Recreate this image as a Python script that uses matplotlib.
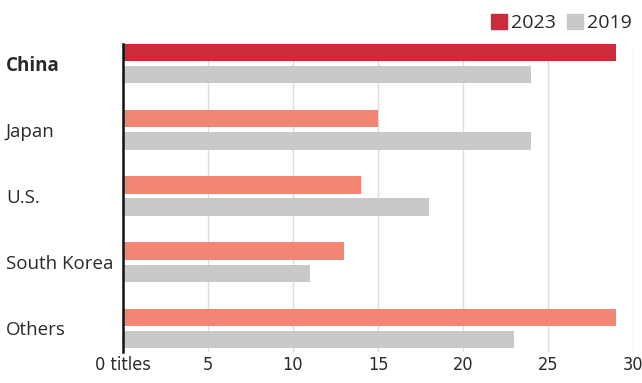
import matplotlib
matplotlib.use("Agg")
import matplotlib.pyplot as plt
from matplotlib.patches import Patch
from matplotlib import font_manager as fm

categories = ["China", "Japan", "U.S.", "South Korea", "Others"]
values_2023 = [29, 15, 14, 13, 29]
values_2019 = [24, 24, 18, 11, 23]
xticks = [0, 5, 10, 15, 20, 25, 30]
xtick_labels = ["0 titles", "5", "10", "15", "20", "25", "30"]

RED = "#CC2B3A"
SALMON = "#F28574"
GRAY = "#C8C9CA"
TXT = "#2a2a2a"

W, H = 642, 383
fig = plt.figure(figsize=(W / 100, H / 100), dpi=100)
ax = fig.add_axes([123 / W, 1 - 352 / H, (633 - 123) / W, (352 - 44) / H])

pos = list(range(len(categories)))
bh = 0.26
off = 0.167
colors_2023 = [RED if i == 0 else SALMON for i in pos]
ax.barh([p - off for p in pos], values_2023, height=bh, color=colors_2023, zorder=3)
ax.barh([p + off for p in pos], values_2019, height=bh, color=GRAY, zorder=3)

ax.set_xlim(0, 30)
ax.set_ylim(len(categories) - 1 + 0.36, -0.30)

for s in ["top", "right", "bottom"]:
    ax.spines[s].set_visible(False)
ax.spines["left"].set_color("#111111")
ax.spines["left"].set_linewidth(1.8)
ax.spines["left"].set_zorder(5)

for x in xticks[1:]:
    ax.axvline(x, ymin=0, ymax=1 - 4 / 308, color="#dcdcdc", lw=1, zorder=1)

tick_fp = fm.FontProperties(family=["DejaVu Sans"], stretch="condensed", size=13)
ax.set_xticks(xticks)
ax.set_xticklabels(xtick_labels, color=TXT, fontproperties=tick_fp)
ax.tick_params(axis="x", length=0, pad=3)

ax.set_yticks(pos)
ax.set_yticklabels(categories, fontsize=13.5, color=TXT, family=["Open Sans", "DejaVu Sans"])
ax.tick_params(axis="y", length=0, pad=117 * 0.72)
for i, lbl in enumerate(ax.get_yticklabels()):
    lbl.set_ha("left")
    if i == 0:
        lbl.set_fontweight("bold")

handles = [Patch(color=RED, label="2023"), Patch(color=GRAY, label="2019")]
fig.legend(handles=handles, loc="upper right", bbox_to_anchor=(640 / W, 1 - 6 / H),
           ncol=2, frameon=False, handlelength=0.8, handleheight=0.8,
           handletextpad=0.25, columnspacing=0.55, borderaxespad=0,
           prop={"family": ["Open Sans", "DejaVu Sans"], "size": 14}, labelcolor=TXT)

fig.savefig("out.png", dpi=100)
